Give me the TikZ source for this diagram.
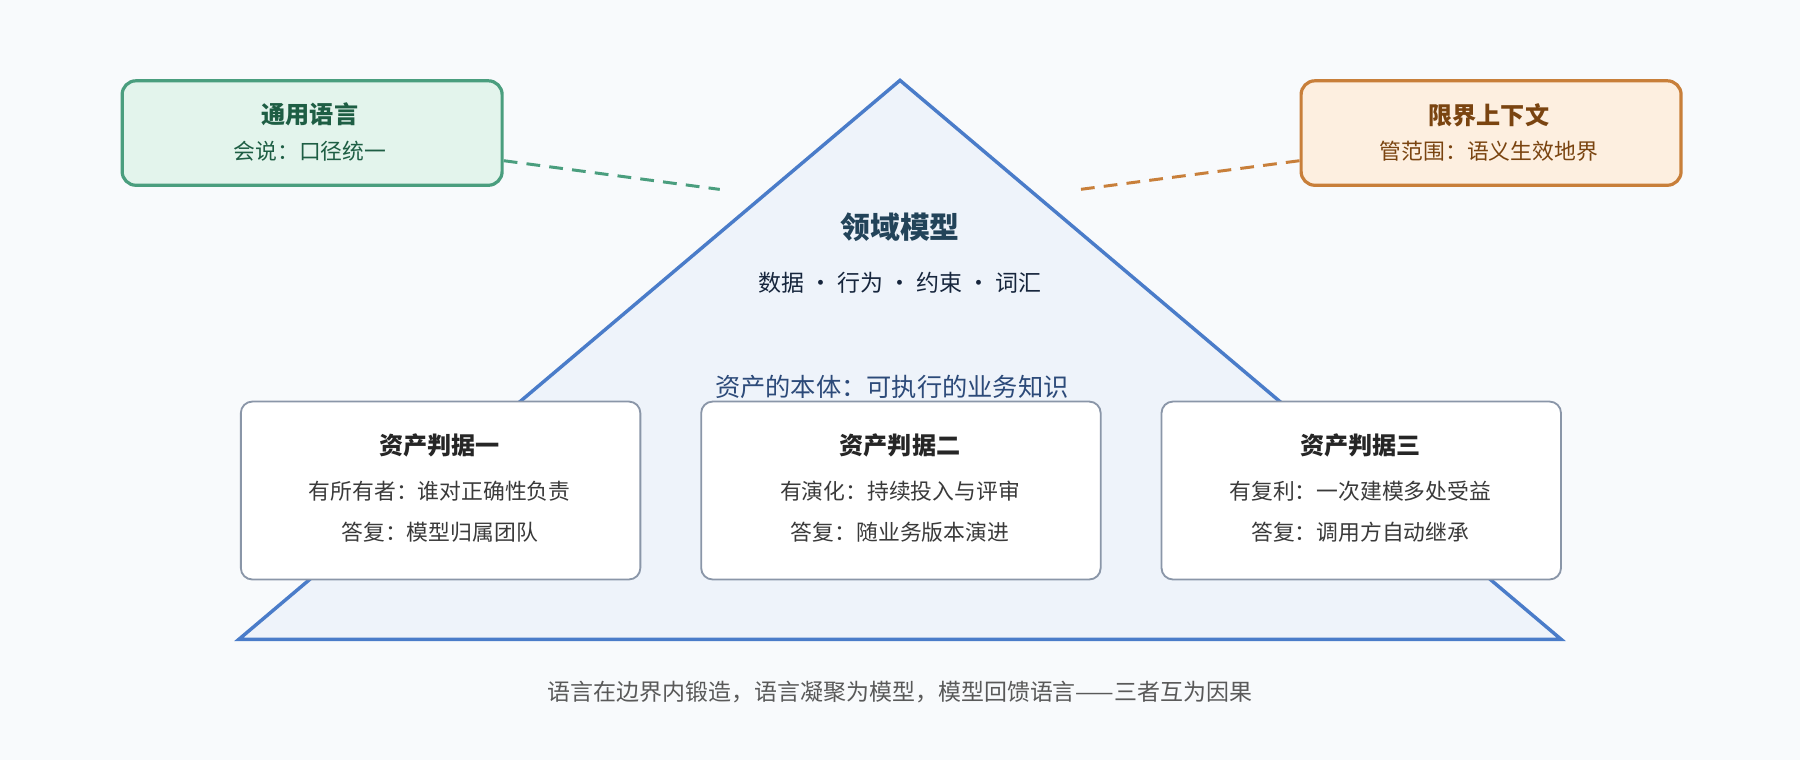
\documentclass[tikz,border=0pt]{standalone}
\usepackage{fontspec}
\setmainfont{Noto Sans CJK SC}
\newfontfamily\cjkb{Noto Sans CJK SC}[BoldFont={* Bold}]
\begin{document}
\begin{tikzpicture}[x=0.5pt,y=-0.5pt,
  card/.style={draw=cardB,fill=white,line width=0.8pt,rounded corners=5pt,minimum width=174pt,minimum height=77.5pt,anchor=north west},
  side/.style={line width=1.4pt,rounded corners=6pt,minimum width=165.5pt,minimum height=45.5pt,anchor=north west},
  ttl/.style={font=\bfseries\fontsize{10.5}{12}\selectfont},
  txt/.style={font=\fontsize{9.5}{11}\selectfont,text=txtC}]
\definecolor{bg}{HTML}{F8FAFC}
\definecolor{triF}{HTML}{EEF3FA}
\definecolor{triB}{HTML}{4A7CC9}
\definecolor{cardB}{HTML}{8A96A8}
\definecolor{txtC}{HTML}{3A3A3A}
\definecolor{gF}{HTML}{E3F4EC}\definecolor{gB}{HTML}{4A9E7E}\definecolor{gT}{HTML}{1E5E44}
\definecolor{oF}{HTML}{FDEFE0}\definecolor{oB}{HTML}{C87F3A}\definecolor{oT}{HTML}{7A4410}
\fill[bg] (0,0) rectangle (1568,662);
\useasboundingbox (0,0) rectangle (1568,662);
\draw[triB,fill=triF,line width=1.5pt,line join=miter] (784,70) -- (1360,557) -- (208,557) -- cycle;
\node[font=\bfseries\fontsize{13}{15}\selectfont,text=gT!40!triB!60!black] (title) at (784,198) {领域模型};
\node[font=\fontsize{10}{12}\selectfont,text=black!70!triB] (sub) at (784,246) {数据 · 行为 · 约束 · 词汇};
\node[font=\fontsize{11}{13}\selectfont,text=triB!60!black] (core) at (777,337) {资产的本体：可执行的业务知识};
\foreach \n/\x/\t/\a/\b in {c1/209/资产判据一/有所有者：谁对正确性负责/答复：模型归属团队,
  c2/610/资产判据二/有演化：持续投入与评审/答复：随业务版本演进,
  c3/1011/资产判据三/有复利：一次建模多处受益/答复：调用方自动继承}{
  \node[card] (\n) at (\x,349) {};
  \node[ttl,text=black!85] (\n t) at (\x+174,388) {\t};
  \node[txt] (\n a) at (\x+174,428) {\a};
  \node[txt] (\n b) at (\x+174,464) {\b};
}
\node[side,draw=gB,fill=gF] (ul) at (105,69) {};
\node[ttl,text=gT] (ult) at (270,100) {通用语言};
\node[txt,text=gT] (ula) at (270,132) {会说：口径统一};
\node[side,draw=oB,fill=oF] (bc) at (1132,69) {};
\node[ttl,text=oT] (bct) at (1297,100) {限界上下文};
\node[txt,text=oT] (bca) at (1297,132) {管范围：语义生效地界};
\coordinate (gE) at (627,165);
\coordinate (oE) at (941,165);
\draw[gB,line width=1.3pt,dash pattern=on 6pt off 4pt] (ul.east |- 0,140) -- (gE);
\draw[oB,line width=1.3pt,dash pattern=on 6pt off 4pt] (bc.west |- 0,140) -- (oE);
\node[font=\fontsize{10}{12}\selectfont,text=black!65] (cap) at (784,603) {语言在边界内锻造，语言凝聚为模型，模型回馈语言——三者互为因果};
\end{tikzpicture}
\end{document}
